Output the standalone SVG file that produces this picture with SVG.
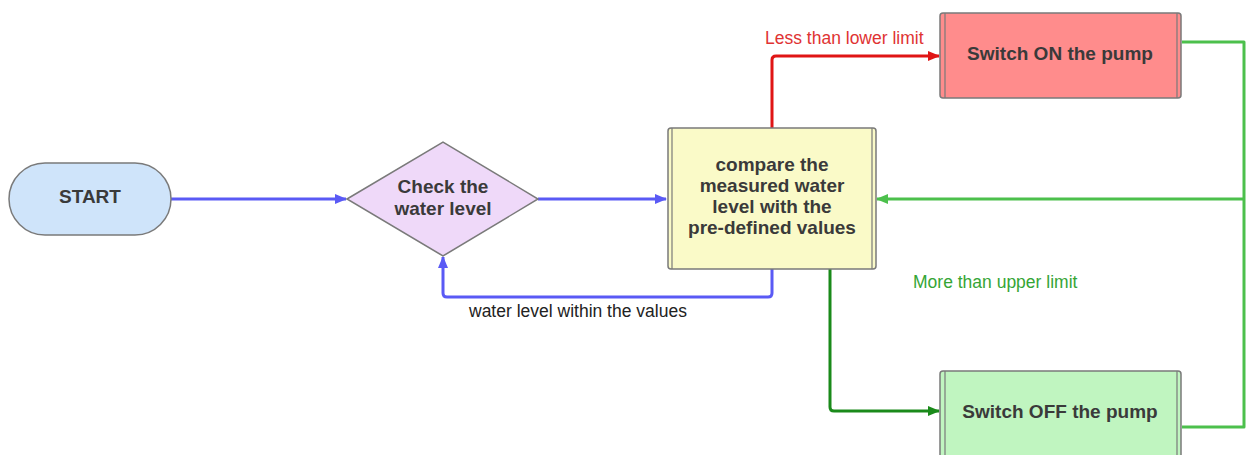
<svg xmlns="http://www.w3.org/2000/svg" width="1248" height="455" viewBox="0 0 1248 455">
<defs>
<style>
.node{stroke:#7a7a7a;stroke-width:1.5}
.inner{stroke:#7a7a7a;stroke-width:1.2;fill:none}
.t{font-family:"Liberation Sans",Arial,sans-serif;font-weight:bold;font-size:19px;fill:#3a3a3a;text-anchor:middle}
.lbl{font-family:"Liberation Sans",Arial,sans-serif;font-size:17.5px}
.c{fill:none;stroke-width:3;stroke-linejoin:round}
</style>
<marker id="ab" viewBox="0 0 12 10" refX="11" refY="5" markerWidth="12" markerHeight="10" markerUnits="userSpaceOnUse" orient="auto"><path d="M0,0 L12,5 L0,10 z" fill="#5a5af5"/></marker>
<marker id="ar" viewBox="0 0 12 10" refX="11" refY="5" markerWidth="12" markerHeight="10" markerUnits="userSpaceOnUse" orient="auto"><path d="M0,0 L12,5 L0,10 z" fill="#e01515"/></marker>
<marker id="adg" viewBox="0 0 12 10" refX="11" refY="5" markerWidth="12" markerHeight="10" markerUnits="userSpaceOnUse" orient="auto"><path d="M0,0 L12,5 L0,10 z" fill="#1a8a1a"/></marker>
<marker id="alg" viewBox="0 0 12 10" refX="11" refY="5" markerWidth="12" markerHeight="10" markerUnits="userSpaceOnUse" orient="auto"><path d="M0,0 L12,5 L0,10 z" fill="#4cc04c"/></marker>
</defs>
<rect width="1248" height="455" fill="#ffffff"/>

<g id="connectors">
<path class="c" stroke="#5a5af5" d="M171,199 H346" marker-end="url(#ab)"/>
<path class="c" stroke="#5a5af5" d="M538,199 H666" marker-end="url(#ab)"/>
<path class="c" stroke="#5a5af5" d="M772,269 V293 Q772,297 768,297 H447 Q443,297 443,293 V257" marker-end="url(#ab)"/>
<path class="c" stroke="#e01515" d="M772,128 V60 Q772,56 776,56 H939" marker-end="url(#ar)"/>
<path class="c" stroke="#1a8a1a" d="M830,269 V407 Q830,411 834,411 H939" marker-end="url(#adg)"/>
<path class="c" stroke="#4cc04c" d="M1182,42 H1244 V427 H1182"/>
<path class="c" stroke="#4cc04c" d="M1244,199 H877" marker-end="url(#alg)"/>
<text class="lbl" x="765" y="44" fill="#e03333">Less than lower limit</text>
<text class="lbl" x="469" y="317" fill="#222222">water level within the values</text>
<text class="lbl" x="913" y="288" fill="#35a535">More than upper limit</text>
</g>

<g id="start">
<rect class="node" x="9" y="163" width="162" height="72" rx="36" ry="36" fill="#cfe4fa"/>
<text class="t" x="90" y="203">START</text>
</g>

<g id="check">
<polygon class="node" points="347,199 443,142 538,199 443,256" fill="#efd9f9"/>
<text class="t" x="443" y="193">Check the</text>
<text class="t" x="443" y="215">water level</text>
</g>

<g id="compare">
<rect class="node" x="668" y="128" width="208" height="141" rx="3" fill="#fafac8"/>
<path class="inner" d="M672,128 V269 M872,128 V269"/>
<text class="t" x="772" y="171">compare the</text>
<text class="t" x="772" y="192">measured water</text>
<text class="t" x="772" y="213">level with the</text>
<text class="t" x="772" y="234">pre-defined values</text>
</g>

<g id="switch-on">
<rect class="node" x="940" y="13" width="241" height="85" rx="3" fill="#ff8c8c"/>
<path class="inner" d="M945,13 V98 M1177,13 V98"/>
<text class="t" x="1060" y="60">Switch ON the pump</text>
</g>

<g id="switch-off">
<rect class="node" x="940" y="371" width="241" height="90" rx="3" fill="#c0f5c0"/>
<path class="inner" d="M945,371 V461 M1177,371 V461"/>
<text class="t" x="1060" y="418">Switch OFF the pump</text>
</g>
</svg>
